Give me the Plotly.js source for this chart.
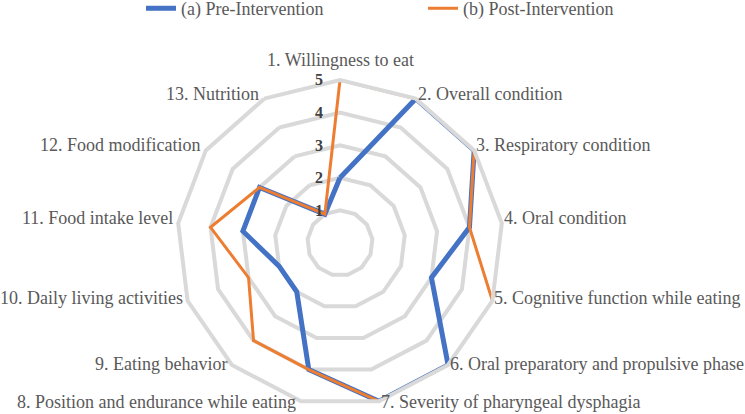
<!DOCTYPE html>
<html><head><meta charset="utf-8">
<script src="https://cdn.plot.ly/plotly-3.0.1.min.js"></script>
<style>html,body{margin:0;padding:0;background:#fff}#chart{width:745px;height:414px}</style>
</head><body><div id="chart"></div>
<script>
const categories = [
  "1. Willingness to eat",
  "2. Overall condition",
  "3. Respiratory condition",
  "4. Oral condition",
  "5. Cognitive function while eating",
  "6. Oral preparatory and propulsive phase",
  "7. Severity of pharyngeal dysphagia",
  "8. Position and endurance while eating",
  "9. Eating behavior",
  "10. Daily living activities",
  "11. Food intake level",
  "12. Food modification",
  "13. Nutrition"
];
const preValues  = [2, 5, 5, 4, 3, 5, 5, 4, 2, 2, 3, 3, 1];
const postValues = [5, 5, 5, 4, 5, 5, 5, 4, 4, 3, 4, 3, 1];
const radialTicks = [1, 2, 3, 4, 5];
const seriesNames = ["(a) Pre-Intervention", "(b) Post-Intervention"];

const W = 745, H = 414;
const FONT = 'Liberation Serif, Times New Roman, DejaVu Serif, serif';
const close = a => a.concat([a[0]]);
const cats = close(categories);

const traces = [
  {type:'scatterpolar', mode:'lines', name:seriesNames[0], r:close(preValues), theta:cats,
   line:{color:'#4472C4', width:5}},
  {type:'scatterpolar', mode:'lines', name:seriesNames[1], r:close(postValues), theta:cats,
   line:{color:'#ED7D31', width:3}}
];

// polar geometry (pixels)
const cx = 340, cy = 243, R = 163, RMAX = 5;
const dom = {x:[(cx-R)/W, (cx+R)/W], y:[(H-(cy+R))/H, (H-(cy-R))/H]};

// category labels placed next to outer vertices
const n = categories.length;
const annotations = categories.map((c, i) => {
  const th = i * 2 * Math.PI / n;
  const s = Math.sin(th), co = Math.cos(th);
  let vx = cx + R * s, vy = cy - R * co;
  let xanchor, yanchor = 'middle', x = vx, y = vy;
  if (i === 0) { xanchor = 'center'; yanchor = 'bottom'; y = vy - 8; }
  else if (s > 0) { xanchor = 'left'; x = vx; y = vy - 5 + 6 * Math.max(0, -co); }
  else { xanchor = 'right'; x = vx - 3; y = vy - 5 + 6 * Math.max(0, -co); }
  return {text:c, xref:'paper', yref:'paper', x:x / W, y:1 - y / H,
          xanchor, yanchor, showarrow:false,
          font:{family:FONT, size:18, color:'#595959'}};
});
// radial tick labels, left of the vertical spoke
radialTicks.forEach(v => {
  annotations.push({text:'<b>' + v + '</b>', xref:'paper', yref:'paper',
    x:(cx - 15) / W, y:1 - (cy - v * R / RMAX) / H, xanchor:'right', yanchor:'middle',
    showarrow:false, font:{family:FONT, size:16, color:'#404040'}});
});

const layout = {
  width:W, height:H,
  margin:{l:0,r:0,t:0,b:0, autoexpand:false},
  paper_bgcolor:'#fff',
  font:{family:FONT, color:'#595959', size:18},
  showlegend:true,
  legend:{orientation:'h', x:141 / W, xanchor:'left', y:1.024, yanchor:'top',
          entrywidth:237, entrywidthmode:'pixels',
          font:{family:FONT, size:18, color:'#595959'}},
  annotations,
  polar:{
    domain:dom,
    bgcolor:'rgba(0,0,0,0)',
    gridshape:'linear',
    angularaxis:{
      type:'category', categoryarray:categories, direction:'clockwise', rotation:90,
      showgrid:false, showline:true, linecolor:'#d9d9d9', linewidth:4,
      ticks:'', showticklabels:false
    },
    radialaxis:{
      range:[0, RMAX], tickvals:radialTicks, angle:90, showline:false,
      gridcolor:'#d9d9d9', gridwidth:4, ticks:'', showticklabels:false
    }
  }
};
const draw = () => Plotly.newPlot('chart', traces, layout, {displayModeBar:false, staticPlot:true});
if (document.fonts && document.fonts.load) {
  Promise.all([document.fonts.load('18px "Liberation Serif"'), document.fonts.load('bold 16px "Liberation Serif"')])
    .then(draw, draw);
} else { draw(); }
</script></body></html>
